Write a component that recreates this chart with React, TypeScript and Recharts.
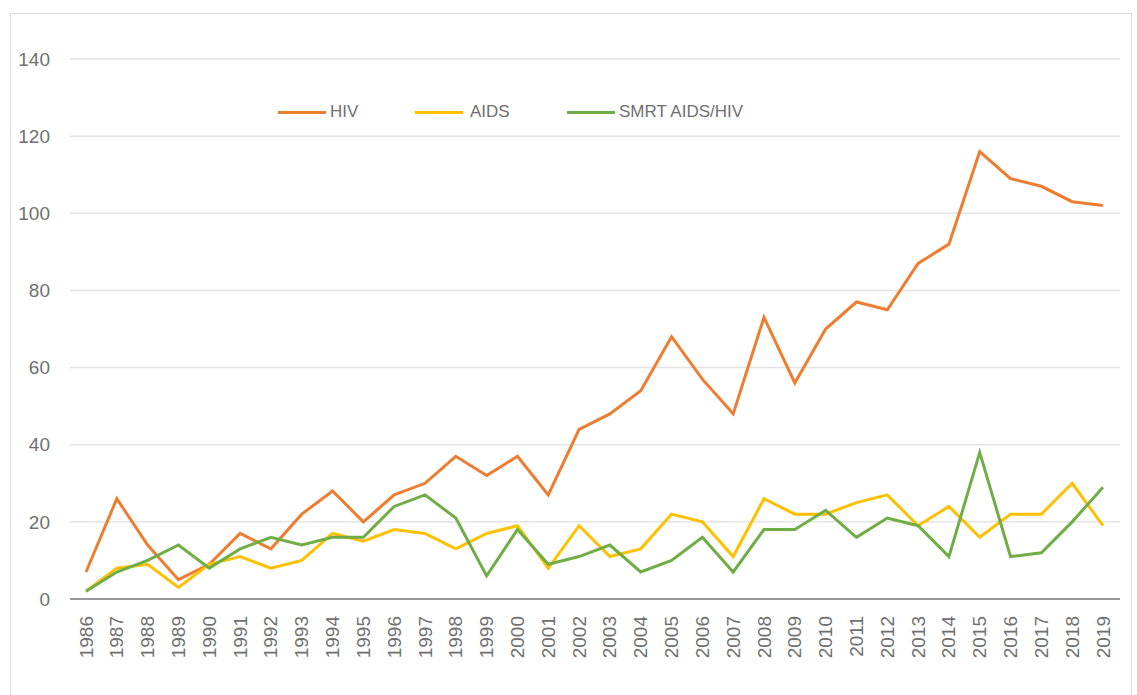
import React from 'react';
import { LineChart, Line, XAxis, YAxis, CartesianGrid } from 'recharts';

const years = [
  '1986', '1987', '1988', '1989', '1990', '1991', '1992', '1993', '1994', '1995',
  '1996', '1997', '1998', '1999', '2000', '2001', '2002', '2003', '2004', '2005',
  '2006', '2007', '2008', '2009', '2010', '2011', '2012', '2013', '2014', '2015',
  '2016', '2017', '2018', '2019',
];

const hiv = [
  7, 26, 14, 5, 9, 17, 13, 22, 28, 20, 27, 30, 37, 32, 37, 27, 44, 48, 54, 68,
  57, 48, 73, 56, 70, 77, 75, 87, 92, 116, 109, 107, 103, 102,
];

const aids = [
  2, 8, 9, 3, 9, 11, 8, 10, 17, 15, 18, 17, 13, 17, 19, 8, 19, 11, 13, 22,
  20, 11, 26, 22, 22, 25, 27, 19, 24, 16, 22, 22, 30, 19,
];

const smrt = [
  2, 7, 10, 14, 8, 13, 16, 14, 16, 16, 24, 27, 21, 6, 18, 9, 11, 14, 7, 10,
  16, 7, 18, 18, 23, 16, 21, 19, 11, 38, 11, 12, 20, 29,
];

const yTicks = [0, 20, 40, 60, 80, 100, 120, 140];

const series = [
  { key: 'hiv', name: 'HIV', color: '#ED7D31' },
  { key: 'aids', name: 'AIDS', color: '#FFC000' },
  { key: 'smrt', name: 'SMRT AIDS/HIV', color: '#70AD47' },
];

const data = years.map((year, i) => ({
  year,
  hiv: hiv[i],
  aids: aids[i],
  smrt: smrt[i],
}));

const FONT = '"Liberation Sans", Arial, sans-serif';
const TEXT = '#707070';

// legend sits inside the plot, Excel style
const legendLeft = [278, 415, 567];

function ChartLegend() {
  return (
    <div style={{ position: 'absolute', left: 0, top: 101, fontFamily: FONT, fontSize: 17, color: TEXT }}>
      {series.map((s, i) => (
        <div
          key={s.key}
          style={{ position: 'absolute', left: legendLeft[i], display: 'flex', alignItems: 'center', whiteSpace: 'nowrap', height: 22 }}
        >
          <div style={{ width: 48, height: 3, background: s.color, marginRight: i === 1 ? 7 : 4 }} />
          <span>{s.name}</span>
        </div>
      ))}
    </div>
  );
}

function XTick(props: any) {
  const { x, y, payload } = props;
  return (
    <text
      x={x}
      y={y}
      transform={`rotate(-90, ${x}, ${y})`}
      textAnchor="end"
      dominantBaseline="central"
      fill={TEXT}
      fontSize={19}
      fontFamily={FONT}
    >
      {payload.value}
    </text>
  );
}

export default function App() {
  return (
    <div style={{ position: 'absolute', left: 0, top: 0, width: 1137, height: 695, overflow: 'hidden', background: '#fff' }}>
      <div
        style={{
          position: 'absolute',
          left: 10,
          top: 13,
          width: 1120,
          height: 720,
          border: '1px solid #d9d9d9',
        }}
      />
      <div style={{ position: 'absolute', left: 0, top: 0 }}>
        <LineChart width={1137} height={695} data={data} margin={{ top: 59, right: 17, bottom: 0, left: 0 }}>
          <CartesianGrid vertical={false} stroke="#e3e3e3" strokeWidth={1.5} />
          <XAxis
            dataKey="year"
            interval={0}
            height={96}
            padding={{ left: 16, right: 17 }}
            tick={<XTick />}
            tickLine={false}
            tickMargin={11}
            axisLine={{ stroke: '#999999', strokeWidth: 2 }}
          />
          <YAxis
            width={70}
            domain={[0, 140]}
            ticks={yTicks}
            axisLine={false}
            tickLine={false}
            tickMargin={14}
            tick={{ fill: TEXT, fontSize: 19, fontFamily: FONT }}
          />
          {series.map((s) => (
            <Line
              key={s.key}
              type="linear"
              dataKey={s.key}
              name={s.name}
              stroke={s.color}
              strokeWidth={3}
              dot={false}
              activeDot={false}
              isAnimationActive={false}
            />
          ))}
        </LineChart>
      </div>
      <ChartLegend />
    </div>
  );
}
